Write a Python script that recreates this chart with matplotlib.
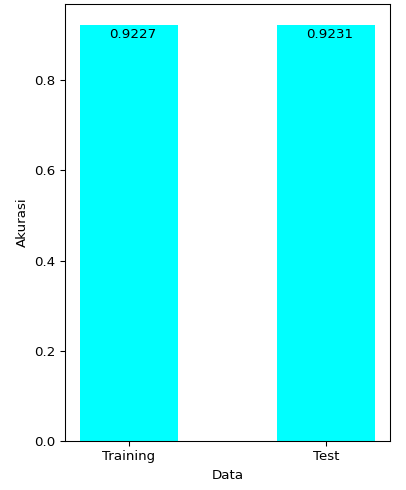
import numpy as np
import matplotlib.pyplot as plt

labels = ["Training", "Test"]
accuracy = [0.9227, 0.9231]

fig = plt.figure(figsize=(406 / 96, 490 / 96), dpi=96)
ax = fig.add_axes([0.160, 0.100, 0.801, 0.892])

x = np.arange(len(labels))
ax.bar(x, accuracy, width=0.5, color="cyan")
for i, v in enumerate(accuracy):
    ax.text(i - 0.1, v - 0.03, "{}".format(v), fontsize=10)

ax.set_xticks(x)
ax.set_xticklabels(labels)
ax.set_xlabel("Data")
ax.set_ylabel("Akurasi")

fig.savefig("out.png", dpi=96)
